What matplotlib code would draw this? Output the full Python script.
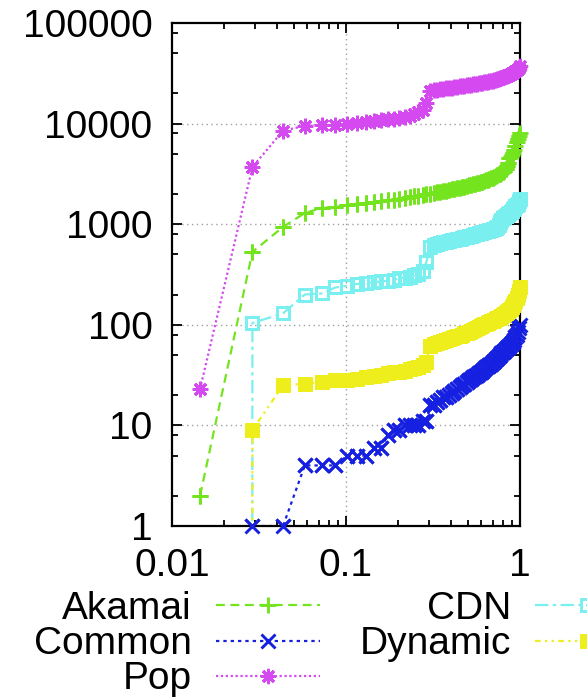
import numpy as np
import matplotlib
matplotlib.use("Agg")
import matplotlib.pyplot as plt
from matplotlib.ticker import FixedLocator, LogLocator, NullFormatter

plt.rcParams['font.family'] = ['Liberation Sans', 'DejaVu Sans']

# rank of each entry, x = rank / N
N = 69

akamai = [2, 530, 940, 1290, 1450, 1480, 1550, 1600, 1630, 1660,
          1700, 1730, 1760, 1800, 1830, 1860, 1890, 1920, 1950, 1980,
          2010, 2040, 2070, 2100, 2130, 2160, 2190, 2220, 2250, 2280,
          2310, 2340, 2370, 2400, 2430, 2460, 2490, 2520, 2550, 2580,
          2610, 2640, 2680, 2720, 2760, 2800, 2850, 2900, 2950, 3000,
          3060, 3120, 3180, 3250, 3320, 3400, 3550, 3800, 4100, 4500,
          4700, 4900, 5100, 5500, 6000, 6500, 7000, 7500, 8000]

cdn = [0, 104, 130, 200, 205, 235, 245, 255, 260, 265,
       270, 275, 280, 290, 295, 300, 310, 320, 340, 420,
       600, 620, 640, 650, 660, 670, 680, 690, 700, 710,
       720, 730, 740, 750, 760, 770, 780, 790, 800, 810,
       820, 830, 840, 850, 860, 870, 880, 890, 900, 920,
       940, 980, 1050, 1100, 1150, 1180, 1200, 1230, 1260, 1290,
       1320, 1350, 1400, 1450, 1500, 1550, 1600, 1700, 1800]

common = [0, 1, 1, 4, 4, 4, 5, 5, 5, 6,
          6, 8, 9, 9, 10, 10, 10, 10, 11, 11,
          16, 16, 17, 18, 19, 19, 20, 21, 22, 23,
          24, 25, 26, 27, 28, 29, 30, 31, 32, 33,
          34, 35, 36, 38, 39, 40, 41, 43, 44, 46,
          47, 49, 50, 52, 54, 55, 57, 59, 60, 62,
          64, 66, 68, 71, 75, 80, 85, 92, 100]

dynamic = [0, 9, 25, 26, 27, 28, 28, 29, 30, 31,
           32, 33, 34, 34, 35, 36, 37, 38, 40, 43,
           62, 64, 66, 68, 69, 71, 72, 74, 75, 77,
           78, 80, 82, 83, 85, 87, 89, 91, 93, 95,
           98, 100, 101, 103, 104, 106, 108, 110, 112, 114,
           116, 118, 120, 122, 125, 128, 131, 134, 137, 140,
           145, 150, 156, 163, 172, 185, 200, 215, 240]

pop = [23, 3700, 8500, 9500, 9600, 9700, 10000, 10200, 10400, 10600,
       10800, 11000, 11200, 11400, 11700, 12000, 12400, 12900, 13600, 16000,
       21000, 21500, 21800, 22000, 22200, 22400, 22600, 22800, 23000, 23200,
       23400, 23600, 23800, 24000, 24200, 24400, 24600, 24800, 25000, 25200,
       25400, 25600, 25800, 26000, 26200, 26400, 26600, 26800, 27000, 27300,
       27600, 27900, 28200, 28500, 28800, 29100, 29400, 29800, 30200, 30600,
       31000, 31500, 32000, 32600, 33200, 34000, 35000, 36000, 37000]

names = ['Akamai', 'CDN', 'Common', 'Dynamic', 'Pop']
series = [akamai, cdn, common, dynamic, pop]
colors = ['#74e41f', '#7aefef', '#1520e0', '#eeee1c', '#d449f0']
dashes = [(4, 2.5), (6, 2, 1.5, 2), (1.5, 1.8), (2.5, 2, 1, 2, 1, 2), (1, 1.2)]
markers = ['+', 's', 'x', 's', (8, 2, 0)]
msizes = [11, 8, 9.5, 8, 11]
filled = [False, False, False, True, False]

fig = plt.figure(figsize=(5.87, 6.99), dpi=100)
ax = fig.add_axes([172 / 587, 1 - 526 / 699, 348 / 587, 503 / 699])

x = np.arange(1, N + 1) / N
handles = {}
for name, ys, c, d, m, ms, f in zip(names, series, colors, dashes, markers, msizes, filled):
    ys = np.array(ys, dtype=float)
    fc = c if f else 'none'
    ln, = ax.plot(x, ys, color=c, lw=1.6, dashes=d, marker=m, ms=ms,
                  mew=2.1, mfc=fc, mec=c, label=name)
    # markers drawn again unclipped so they can sit over the frame
    ok = ys > 0
    ax.plot(x[ok], ys[ok], ls='none', marker=m, ms=ms, mew=2.1, mfc=fc,
            mec=c, clip_on=False, zorder=3)
    handles[name] = ln

ax.set_xscale('log')
ax.set_yscale('log')
ax.set_xlim(0.01, 1)
ax.set_ylim(1, 100000)

ax.xaxis.set_major_locator(FixedLocator([0.01, 0.1, 1]))
ax.set_xticklabels(['0.01', '0.1', '1'])
ax.xaxis.set_minor_locator(LogLocator(base=10, subs=range(2, 10)))
ax.xaxis.set_minor_formatter(NullFormatter())

yt = [1, 10, 100, 1000, 10000, 100000]
ax.yaxis.set_major_locator(FixedLocator(yt))
ax.set_yticklabels([str(v) for v in yt])
ax.yaxis.set_minor_locator(LogLocator(base=10, subs=(2, 5, 8)))
ax.yaxis.set_minor_formatter(NullFormatter())

ax.tick_params(which='both', direction='in', top=True, right=True, width=1.3)
ax.tick_params(which='major', length=7, labelsize=28)
ax.tick_params(which='minor', length=4)
ax.tick_params(axis='x', pad=16)
ax.tick_params(axis='y', pad=14)
for s in ax.spines.values():
    s.set_linewidth(1.6)

for v in [0.1]:
    ax.axvline(v, color='#a0a0a0', lw=1, ls=(0, (1, 2.5)), zorder=0)
for v in [10, 100, 1000, 10000]:
    ax.axhline(v, color='#a0a0a0', lw=1, ls=(0, (1, 2.5)), zorder=0)

order = ['Akamai', 'Common', 'Pop', 'CDN', 'Dynamic']
fig.legend([handles[n] for n in order], order, ncol=2, markerfirst=False,
           frameon=False, loc='upper left', bbox_to_anchor=(34 / 587, 1 - 591 / 699),
           borderpad=0, borderaxespad=0, fontsize=28, handlelength=2.67,
           handletextpad=0.62, columnspacing=1.03, labelspacing=-0.02, numpoints=1)

fig.savefig('out.png', dpi=100)
